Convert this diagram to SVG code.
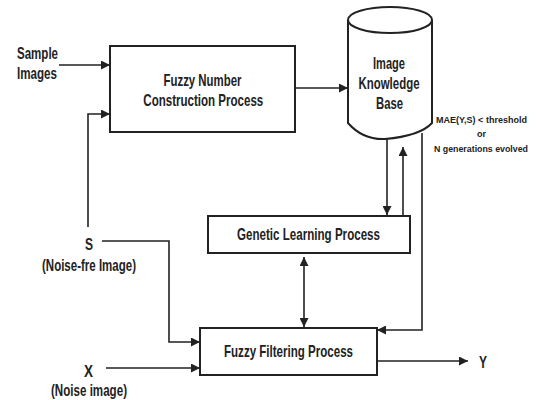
<svg xmlns="http://www.w3.org/2000/svg" width="538" height="400" viewBox="0 0 538 400">
  <style>
    .box { fill: #fff; stroke: #222; stroke-width: 2; }
    .wire { fill: none; stroke: #222; stroke-width: 1.6; }
    .t { font-family: "Liberation Sans Narrow", "Liberation Sans", Arial, sans-serif; font-weight: bold; fill: #222; }
    .big { font-size: 16.5px; }
    .small { font-size: 9.5px; }
  </style>
  <defs>
    <marker id="arrow" viewBox="0 0 10 10" refX="10" refY="5" markerWidth="10" markerHeight="9" markerUnits="userSpaceOnUse" orient="auto-start-reverse">
      <path d="M0,0 L10,5 L0,10 Z" fill="#222"/>
    </marker>
  </defs>

  <rect width="538" height="400" fill="#fff"/>

  <!-- connectors -->
  <g id="connectors">
    <path class="wire" d="M59,65 H110" marker-end="url(#arrow)"/>
    <path class="wire" d="M88,227 V114 H110" marker-end="url(#arrow)"/>
    <path class="wire" d="M295,88 H348" marker-end="url(#arrow)"/>
    <path class="wire" d="M387,139 V215" marker-end="url(#arrow)"/>
    <path class="wire" d="M403,215 V147" marker-end="url(#arrow)"/>
    <path class="wire" d="M422,133 V330 H377" marker-end="url(#arrow)"/>
    <path class="wire" d="M304,257 V327" marker-start="url(#arrow)" marker-end="url(#arrow)"/>
    <path class="wire" d="M102,241 H169 V342 H200" marker-end="url(#arrow)"/>
    <path class="wire" d="M106,368 H200" marker-end="url(#arrow)"/>
    <path class="wire" d="M377,361 H468" marker-end="url(#arrow)"/>
  </g>

  <!-- inputs / outputs -->
  <g id="sample-images">
    <text class="t big" x="17" y="59" textLength="41" lengthAdjust="spacingAndGlyphs">Sample</text>
    <text class="t big" x="17" y="79" textLength="40" lengthAdjust="spacingAndGlyphs">Images</text>
  </g>
  <g id="s-input">
    <text class="t big" x="89" y="250" text-anchor="middle" textLength="8" lengthAdjust="spacingAndGlyphs">S</text>
    <text class="t big" x="89" y="271" text-anchor="middle" textLength="94" lengthAdjust="spacingAndGlyphs">(Noise-fre Image)</text>
  </g>
  <g id="x-input">
    <text class="t big" x="88.5" y="377" text-anchor="middle" textLength="9" lengthAdjust="spacingAndGlyphs">X</text>
    <text class="t big" x="89" y="396" text-anchor="middle" textLength="76" lengthAdjust="spacingAndGlyphs">(Noise image)</text>
  </g>
  <g id="y-output">
    <text class="t big" x="483" y="368" text-anchor="middle" textLength="8" lengthAdjust="spacingAndGlyphs">Y</text>
  </g>

  <!-- process boxes -->
  <g id="fuzzy-number">
    <rect class="box" x="110" y="46" width="185" height="86"/>
    <text class="t big" x="202.5" y="86" text-anchor="middle" textLength="78" lengthAdjust="spacingAndGlyphs">Fuzzy Number</text>
    <text class="t big" x="203.3" y="106" text-anchor="middle" textLength="120" lengthAdjust="spacingAndGlyphs">Construction Process</text>
  </g>

  <g id="knowledge-base">
    <path class="box" d="M348,20 V123 Q363,140 385,139 Q420,136 432,123 V20"/>
    <ellipse class="box" cx="390" cy="20" rx="42" ry="13"/>
    <text class="t big" x="389" y="69" text-anchor="middle" textLength="32" lengthAdjust="spacingAndGlyphs">Image</text>
    <text class="t big" x="389" y="89" text-anchor="middle" textLength="61" lengthAdjust="spacingAndGlyphs">Knowledge</text>
    <text class="t big" x="389.5" y="109" text-anchor="middle" textLength="27" lengthAdjust="spacingAndGlyphs">Base</text>
  </g>

  <g id="stop-condition">
    <text class="t small" x="481.5" y="122.5" text-anchor="middle" textLength="91" lengthAdjust="spacingAndGlyphs">MAE(Y,S) &lt; threshold</text>
    <text class="t small" x="481.5" y="136.5" text-anchor="middle" textLength="9" lengthAdjust="spacingAndGlyphs">or</text>
    <text class="t small" x="481" y="151.5" text-anchor="middle" textLength="94" lengthAdjust="spacingAndGlyphs">N generations evolved</text>
  </g>

  <g id="genetic-learning">
    <rect class="box" x="208" y="216" width="202" height="37"/>
    <text class="t big" x="308.5" y="240" text-anchor="middle" textLength="143" lengthAdjust="spacingAndGlyphs">Genetic Learning Process</text>
  </g>

  <g id="fuzzy-filtering">
    <rect class="box" x="200" y="328" width="177" height="47"/>
    <text class="t big" x="288.5" y="357" text-anchor="middle" textLength="129" lengthAdjust="spacingAndGlyphs">Fuzzy Filtering Process</text>
  </g>
</svg>
